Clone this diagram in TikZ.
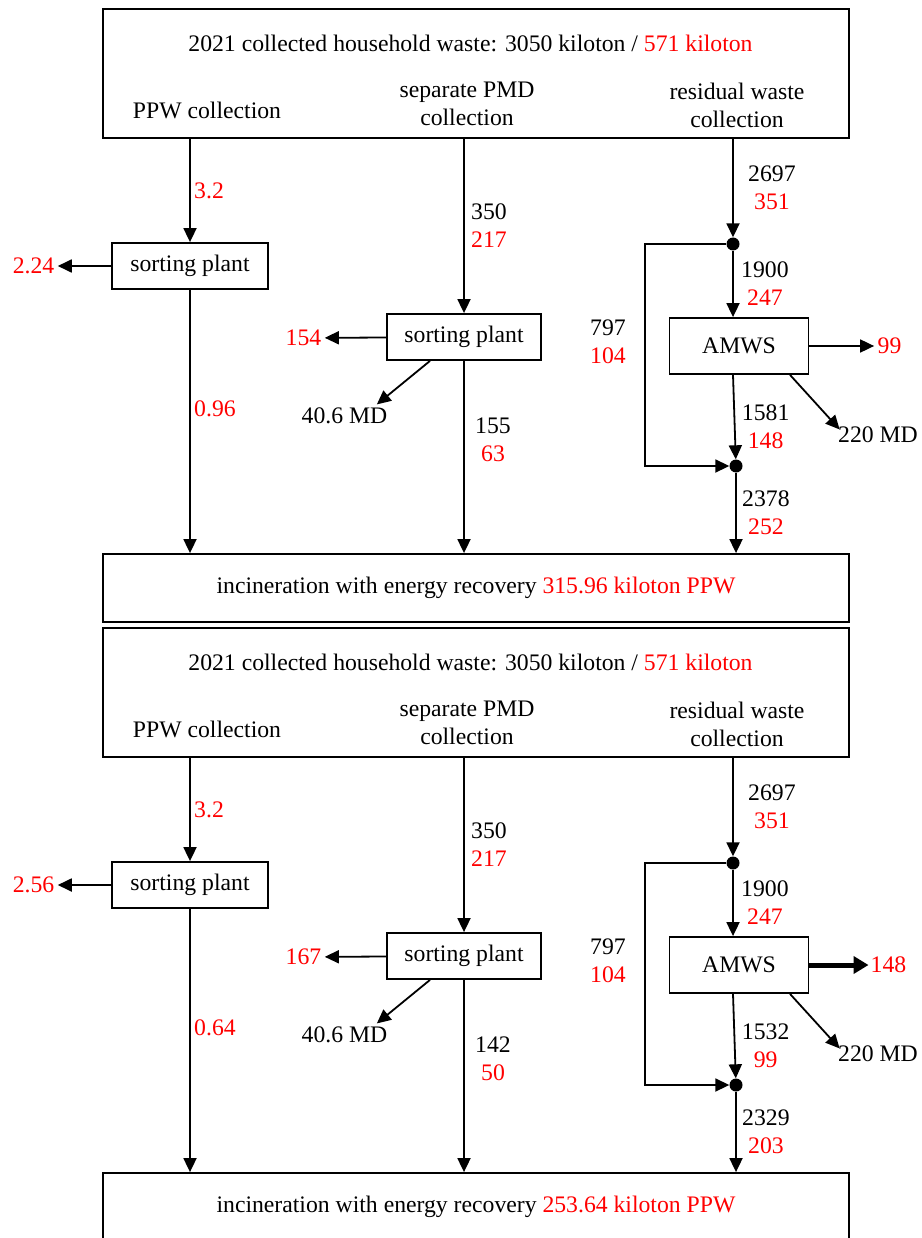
\documentclass[tikz,border=0pt]{standalone}
\usepackage{fontspec}
\setmainfont{Liberation Serif}
\usepackage{tikz}
\usetikzlibrary{arrows.meta}

\begin{document}
\begin{tikzpicture}[x=1pt, y=-1pt,
    every node/.style={font=\fontsize{23.7}{28}\selectfont},
    box/.style={draw, line width=1.8pt, inner sep=0pt},
    flow/.style={-{Triangle[length=14pt,width=13pt]}, line width=1.8pt},
    bigflow/.style={-{Triangle[length=15pt,width=17pt]}, line width=5pt},
    num/.style={align=center},
    dot/.style={circle, fill, inner sep=0pt, minimum size=13pt}]
    \useasboundingbox (0,0) rectangle (921,1238);
    % first scenario
    \node[box, minimum width=746pt, minimum height=129pt] (src) at (476,73.5) {};
    \node (title) at (470.5,43) {2021 collected household waste: 3050 kiloton / \textcolor{red}{571 kiloton}};
    \node (ppw) at (207,110) {PPW collection};
    \node[align=center] (pmd) at (467,104) {separate PMD\\collection};
    \node[align=center] (res) at (737,105) {residual waste\\collection};
    \node[box, minimum width=746pt, minimum height=68pt] (inc) at (476,588) {incineration with energy recovery \textcolor{red}{315.96 kiloton PPW}};
    % PPW
    \node[box, minimum width=156pt, minimum height=46pt] (sp) at (190,266) {sorting plant};
    \node[red] (out) at (33.5,266) {2.24};
    \draw[flow] (sp |- src.south) -- (sp) node[midway, right, red] {3.2};
    \draw[flow] (sp) -- (out);
    \draw[flow] (sp) -- (sp |- inc.north) node[pos=0.45, right, red] {0.96};
    % PMD
    \node[box, minimum width=154pt, minimum height=46pt] (spp) at (464,337) {sorting plant};
    \node[red] (outp) at (303.5,338) {154};
    \node (mdp) at (344.5,416) {40.6 MD};
    \draw[flow] (spp |- src.south) -- (spp) node[midway, right, num, xshift=3pt] {350\\\textcolor{red}{217}};
    \draw[flow] (spp) -- (outp);
    \draw[flow] ([xshift=-34pt]spp.south) -- ([xshift=-14pt]mdp.north east);
    \draw[flow] (spp) -- (spp |- inc.north) node[pos=0.41, right, num, xshift=7pt] {155\\\textcolor{red}{63}};
    % residual waste
    \node[dot] (j1) at (733,244) {};
    \node[box, minimum width=139pt, minimum height=56pt] (amws) at (739,346) {AMWS};
    \node[dot] (j2) at (736,466) {};
    \node[red] (outa) at (889.5,346) {99};
    \node (mda) at (878,435) {220 MD};
    \node[num] (byl) at (608,342) {797\\\textcolor{red}{104}};
    \coordinate (byp) at (645,466);
    \draw[flow] (j1 |- src.south) -- (j1) node[midway, right, num, xshift=11pt] {2697\\\textcolor{red}{351}};
    \draw[flow] (j1) -- (j1 |- amws.north) node[midway, right, num, xshift=4pt] {1900\\\textcolor{red}{247}};
    \draw[flow] (j1) -| (byp) -- (j2);
    \draw[flow] (amws) -- (outa);
    \draw[flow] ([xshift=51pt]amws.south) -- ([shift={(5,6)}]mda.north west);
    \draw[flow] (j1 |- amws.south) -- (j2) node[pos=0.62, right, num, xshift=3pt] {1581\\\textcolor{red}{148}};
    \draw[flow] (j2) -- (j2 |- inc.north) node[midway, right, num, xshift=2pt] {2378\\\textcolor{red}{252}};

    % second scenario
    \begin{scope}[yshift=-619pt]
    \node[box, minimum width=746pt, minimum height=129pt] (srcb) at (476,73.5) {};
    \node (titleb) at (470.5,43) {2021 collected household waste: 3050 kiloton / \textcolor{red}{571 kiloton}};
    \node (ppwb) at (207,110) {PPW collection};
    \node[align=center] (pmdb) at (467,104) {separate PMD\\collection};
    \node[align=center] (resb) at (737,105) {residual waste\\collection};
    \node[box, minimum width=746pt, minimum height=68pt] (incb) at (476,588) {incineration with energy recovery \textcolor{red}{253.64 kiloton PPW}};
    % PPW
    \node[box, minimum width=156pt, minimum height=46pt] (spb) at (190,266) {sorting plant};
    \node[red] (outb) at (33.5,266) {2.56};
    \draw[flow] (spb |- srcb.south) -- (spb) node[midway, right, red] {3.2};
    \draw[flow] (spb) -- (outb);
    \draw[flow] (spb) -- (spb |- incb.north) node[pos=0.45, right, red] {0.64};
    % PMD
    \node[box, minimum width=154pt, minimum height=46pt] (sppb) at (464,337) {sorting plant};
    \node[red] (outpb) at (303.5,338) {167};
    \node (mdpb) at (344.5,416) {40.6 MD};
    \draw[flow] (sppb |- srcb.south) -- (sppb) node[midway, right, num, xshift=3pt] {350\\\textcolor{red}{217}};
    \draw[flow] (sppb) -- (outpb);
    \draw[flow] ([xshift=-34pt]sppb.south) -- ([xshift=-14pt]mdpb.north east);
    \draw[flow] (sppb) -- (sppb |- incb.north) node[pos=0.41, right, num, xshift=7pt] {142\\\textcolor{red}{50}};
    % residual waste
    \node[dot] (j1b) at (733,244) {};
    \node[box, minimum width=139pt, minimum height=56pt] (amwsb) at (739,346) {AMWS};
    \node[dot] (j2b) at (736,466) {};
    \node[red, inner sep=2pt] (outab) at (888.5,346) {148};
    \node (mdab) at (878,435) {220 MD};
    \node[num] (bylb) at (608,342) {797\\\textcolor{red}{104}};
    \coordinate (bypb) at (645,466);
    \draw[flow] (j1b |- srcb.south) -- (j1b) node[midway, right, num, xshift=11pt] {2697\\\textcolor{red}{351}};
    \draw[flow] (j1b) -- (j1b |- amwsb.north) node[midway, right, num, xshift=4pt] {1900\\\textcolor{red}{247}};
    \draw[flow] (j1b) -| (bypb) -- (j2b);
    \draw[bigflow] (amwsb) -- (outab);
    \draw[flow] ([xshift=51pt]amwsb.south) -- ([shift={(5,6)}]mdab.north west);
    \draw[flow] (j1b |- amwsb.south) -- (j2b) node[pos=0.62, right, num, xshift=3pt] {1532\\\textcolor{red}{99}};
    \draw[flow] (j2b) -- (j2b |- incb.north) node[midway, right, num, xshift=2pt] {2329\\\textcolor{red}{203}};
    \end{scope}
\end{tikzpicture}
\end{document}
